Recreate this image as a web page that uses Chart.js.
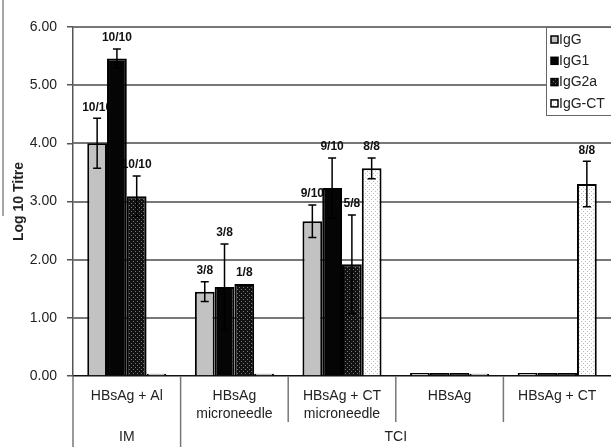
<!DOCTYPE html>
<html>
<head>
<meta charset="utf-8">
<script src="https://cdn.jsdelivr.net/npm/chart.js@4.4.0/dist/chart.umd.min.js"></script>
<style>
  html, body { margin: 0; padding: 0; background: #fff; }
  #wrap { width: 611px; height: 447px; position: relative; }
</style>
</head>
<body>
<div id="wrap"><canvas id="chart_titre"></canvas></div>
<script>
// categories and groups
const categories = [['HBsAg + Al'], ['HBsAg', 'microneedle'], ['HBsAg + CT', 'microneedle'], ['HBsAg'], ['HBsAg + CT']]
const groupNames = ['IM', 'TCI']
const groupSpans = [1, 4]

// series (log10 titre), error bars, responder labels
const igg = [4.00, 1.45, 2.66, 0.05, 0.05]
const iggErr = [0.43, 0.17, 0.28, 0, 0]
const iggLbl = ['10/10', '3/8', '9/10', '', '']

const igg1 = [5.46, 1.53, 3.23, 0.05, 0.05]
const igg1Err = [0.16, 0.74, 0.52, 0, 0]
const igg1Lbl = ['10/10', '3/8', '9/10', '', '']

const igg2a = [3.09, 1.58, 1.92, 0.05, 0.05]
const igg2aErr = [0.35, 0, 0.85, 0, 0]
const igg2aLbl = ['10/10', '1/8', '5/8', '', '']

const iggCT = [0.04, 0.04, 3.57, 0.04, 3.30]
const iggCTErr = [0, 0, 0.18, 0, 0.39]
const iggCTLbl = ['', '', '8/8', '', '8/8']

const yTicks = [0, 1, 2, 3, 4, 5, 6]

const FONT = "'Liberation Sans', Arial, sans-serif"

function dots(bg, dot) {
    let c = document.createElement('canvas')
    c.width = 4; c.height = 4
    let x = c.getContext('2d')
    x.fillStyle = bg
    x.fillRect(0, 0, 4, 4)
    x.fillStyle = dot
    x.fillRect(1, 1, 1, 1)
    x.fillRect(3, 3, 1, 1)
    return x.createPattern(c, 'repeat')
}

// horizontal gridlines + responder labels, both behind the bars
const underBars = {
    id: 'underBars',
    beforeDatasetsDraw(chart) {
        const ctx = chart.ctx
        const y = chart.scales.y
        const area = chart.chartArea
        ctx.save()
        ctx.strokeStyle = '#777'
        ctx.lineWidth = 2
        yTicks.forEach(t => {
            if (t === yTicks[0]) return
            let py = Math.round(y.getPixelForValue(t))
            ctx.beginPath()
            ctx.moveTo(area.left, py)
            ctx.lineTo(area.right, py)
            ctx.stroke()
        })

        ctx.fillStyle = '#111'
        ctx.font = 'bold 12px ' + FONT
        ctx.textAlign = 'center'
        ctx.textBaseline = 'middle'
        chart.data.datasets.forEach((ds, di) => {
            const meta = chart.getDatasetMeta(di)
            meta.data.forEach((bar, i) => {
                if (!ds.lbl[i]) return
                let top = y.getPixelForValue(ds.data[i] + ds.err[i])
                ctx.fillText(ds.lbl[i], bar.x, top - 11)
            })
        })
        ctx.restore()
    }
}

const errorBars = {
    id: 'errorBars',
    afterDatasetsDraw(chart) {
        const ctx = chart.ctx
        const y = chart.scales.y
        ctx.save()
        ctx.strokeStyle = '#000'
        ctx.lineWidth = 1.5
        chart.data.datasets.forEach((ds, di) => {
            const meta = chart.getDatasetMeta(di)
            meta.data.forEach((bar, i) => {
                let v = ds.data[i], e = ds.err[i]
                if (!(e > 0)) return
                let top = y.getPixelForValue(v + e)
                let bot = y.getPixelForValue(v - e)
                ctx.beginPath()
                ctx.moveTo(bar.x, top); ctx.lineTo(bar.x, bot)
                ctx.moveTo(bar.x - 4, top); ctx.lineTo(bar.x + 4, top)
                ctx.moveTo(bar.x - 4, bot); ctx.lineTo(bar.x + 4, bot)
                ctx.stroke()
            })
        })
        ctx.restore()
    }
}

// category dividers, group row, legend box
const decor = {
    id: 'decor',
    afterDraw(chart) {
        const ctx = chart.ctx
        const x = chart.scales.x
        const area = chart.chartArea
        ctx.save()
        ctx.strokeStyle = '#777'
        ctx.lineWidth = 1.5
        let edges = [0]
        groupSpans.forEach(s => edges.push(edges[edges.length - 1] + s))
        for (let i = 0; i <= categories.length - 1; i++) {
            let px = x.getPixelForValue(i - 0.5)
            let full = edges.includes(i)
            ctx.beginPath()
            ctx.moveTo(px, area.bottom)
            ctx.lineTo(px, full ? 447 : 422)
            ctx.stroke()
        }
        ctx.fillStyle = '#222'
        ctx.font = '14px ' + FONT
        ctx.textAlign = 'center'
        ctx.textBaseline = 'middle'
        groupNames.forEach((g, k) => {
            let a = x.getPixelForValue(edges[k] - 0.5)
            let b = Math.min(x.getPixelForValue(edges[k + 1] - 0.5), area.right)
            ctx.fillText(g, (a + b) / 2, 437)
        })

        // scan edge line at far left
        ctx.strokeStyle = '#888'
        ctx.beginPath()
        ctx.moveTo(3, 0); ctx.lineTo(3, 216)
        ctx.stroke()

        // legend
        ctx.fillStyle = '#fff'
        ctx.fillRect(546, 27, 70, 88)
        ctx.strokeStyle = '#666'
        ctx.lineWidth = 1
        ctx.strokeRect(546.5, 27.5, 70, 88)
        chart.data.datasets.forEach((ds, i) => {
            let cy = 40 + i * 21.3
            ctx.fillStyle = ds.backgroundColor
            ctx.fillRect(551, cy - 4, 7, 7)
            ctx.strokeStyle = '#000'
            ctx.lineWidth = 1.5
            ctx.strokeRect(551, cy - 4, 7, 7)
            ctx.fillStyle = '#222'
            ctx.font = '14px ' + FONT
            ctx.textAlign = 'left'
            ctx.textBaseline = 'middle'
            ctx.fillText(ds.label, 559, cy)
        })
        ctx.restore()
    }
}

function dataset(label, data, err, lbl, fill) {
    return {
        label: label,
        data: data,
        err: err,
        lbl: lbl,
        backgroundColor: fill,
        borderColor: '#000',
        borderWidth: 2,
        categoryPercentage: 0.735,
        barPercentage: 1.0
    }
}

const config = {
    type: 'bar',
    data: {
        labels: categories,
        datasets: [
            dataset('IgG', igg, iggErr, iggLbl, '#c2c2c2'),
            dataset('IgG1', igg1, igg1Err, igg1Lbl, '#050505'),
            dataset('IgG2a', igg2a, igg2aErr, igg2aLbl, dots('#111', '#777')),
            dataset('IgG-CT', iggCT, iggCTErr, iggCTLbl, dots('#fff', '#bbb'))
        ]
    },
    options: {
        responsive: true,
        maintainAspectRatio: false,
        animation: false,
        layout: { padding: { top: 27, right: 0, left: 0, bottom: 0 } },
        plugins: {
            legend: { display: false },
            tooltip: { enabled: false }
        },
        scales: {
            x: {
                grid: { display: false },
                border: { color: '#111', width: 1.5 },
                ticks: {
                    color: '#222',
                    font: { family: FONT, size: 14, lineHeight: 1.3 },
                    padding: 3,
                    maxRotation: 0,
                    autoSkip: false
                },
                afterFit: (s) => { s.height = 71 }
            },
            y: {
                min: yTicks[0],
                max: yTicks[yTicks.length - 1],
                grid: { drawOnChartArea: false, tickLength: 6, tickColor: '#555', lineWidth: 1.5 },
                border: { color: '#555', width: 1.5 },
                ticks: {
                    stepSize: yTicks[1] - yTicks[0],
                    color: '#222',
                    font: { family: FONT, size: 14 },
                    padding: 10,
                    callback: (v) => v.toFixed(2)
                },
                title: {
                    display: true,
                    text: 'Log 10 Titre',
                    color: '#222',
                    font: { family: FONT, size: 14, weight: 'bold' },
                    padding: { top: 11, bottom: 0 }
                },
                afterFit: (s) => { s.width = 73 }
            }
        }
    },
    plugins: [underBars, errorBars, decor]
}

const ctx = document.getElementById('chart_titre').getContext('2d')
window.titreChart = new Chart(ctx, config)
</script>
</body>
</html>
